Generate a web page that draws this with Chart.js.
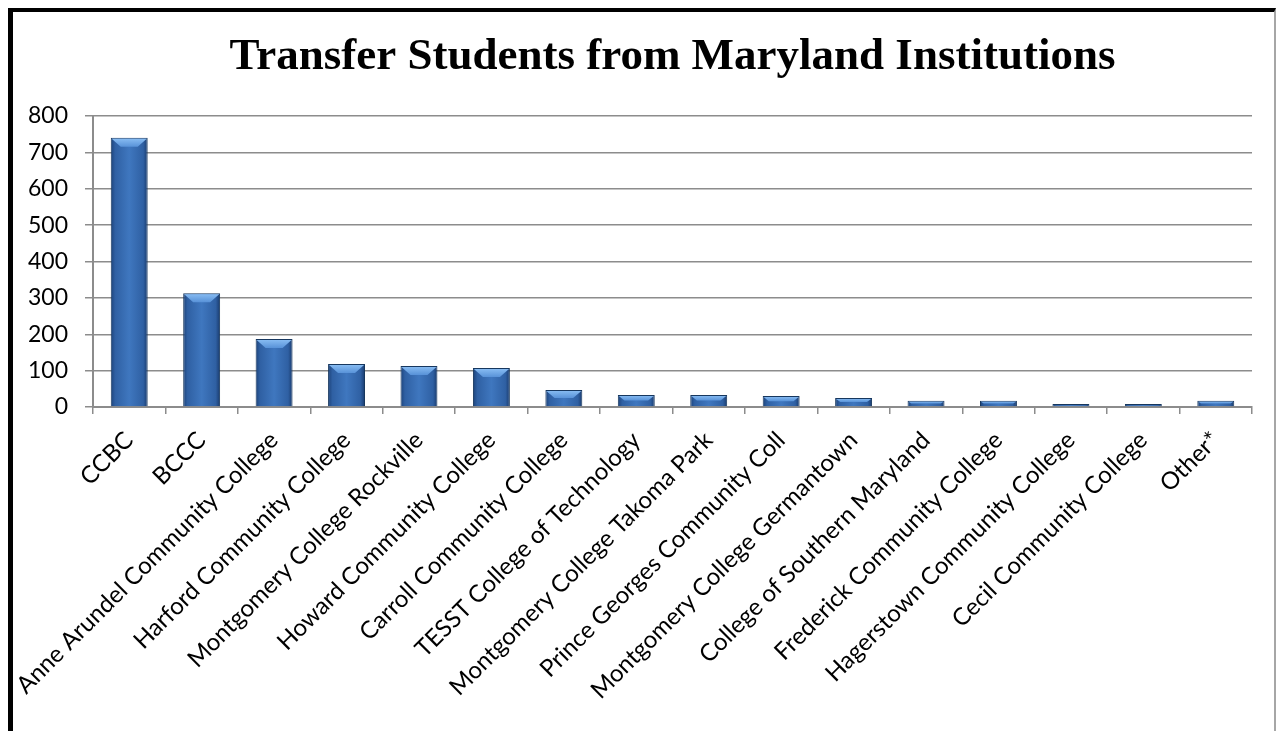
<!DOCTYPE html>
<html>
<head>
<meta charset="utf-8">
<script src="https://cdn.jsdelivr.net/npm/chart.js@4/dist/chart.umd.min.js"></script>
<style>
  body{margin:0;background:#fff;}
  #wrap{position:absolute;left:0;top:0;width:1280px;height:731px;}
  #frame{position:absolute;left:8px;top:8px;width:1268px;height:740px;border-left:5px solid #000;border-top:4px solid #000;border-right:2px solid #a6a6a6;box-sizing:border-box;pointer-events:none;}
</style>
</head>
<body>
<div id="wrap">
  <canvas id="myChart" width="1280" height="731"></canvas>
  <div id="frame"></div>
</div>
<script>
var schools = ["CCBC","BCCC","Anne Arundel Community College","Harford Community College",
  "Montgomery College Rockville","Howard Community College","Carroll Community College",
  "TESST College of Technology","Montgomery College Takoma Park","Prince Georges Community Coll",
  "Montgomery College Germantown","College of Southern Maryland","Frederick Community College",
  "Hagerstown Community College","Cecil Community College","Other*"];
var students = [740, 313, 187, 118, 113, 107, 47, 33, 33, 30, 25, 17, 17, 8, 8, 17];
var yTicks = [0, 100, 200, 300, 400, 500, 600, 700, 800];

var barPct = 0.51;
var labelFont = "Lato, 'Open Sans', sans-serif";

function barFill(c){
  var chart = c.chart;
  var xs = chart.scales.x;
  if(!xs || !chart.chartArea) return '#3a6eb5';
  var cx = xs.getPixelForValue(c.dataIndex);
  var w = xs.width / schools.length * barPct;
  var g = chart.ctx.createLinearGradient(cx - w/2, 0, cx + w/2, 0);
  g.addColorStop(0, '#1c4279');
  g.addColorStop(0.12, '#2f60a3');
  g.addColorStop(0.5, '#3f77bf');
  g.addColorStop(0.88, '#2f60a3');
  g.addColorStop(1, '#193a6c');
  return g;
}

// lighter bevel on top of each bar
var bevel = {
  id: 'bevel',
  afterDatasetsDraw: function(chart){
    var ctx = chart.ctx;
    var meta = chart.getDatasetMeta(0);
    meta.data.forEach(function(bar){
      var p = bar.getProps(['x','y','base','width'], true);
      var l = p.x - p.width/2, r = p.x + p.width/2;
      var b = Math.min(9, (p.base - p.y)/2);
      ctx.save();
      var g = ctx.createLinearGradient(0, p.y, 0, p.y + b);
      g.addColorStop(0, '#8cc0f5');
      g.addColorStop(1, '#5892d8');
      ctx.fillStyle = g;
      ctx.beginPath();
      ctx.moveTo(l + 1, p.y + 1);
      ctx.lineTo(r - 1, p.y + 1);
      ctx.lineTo(r - 1 - b, p.y + b);
      ctx.lineTo(l + 1 + b, p.y + b);
      ctx.closePath();
      ctx.fill();
      ctx.restore();
    });
  }
};

var ctx = document.getElementById('myChart');
var myBarChart = new Chart(ctx, {
  type: 'bar',
  data: {
    labels: schools,
    datasets: [{
      data: students,
      backgroundColor: barFill,
      borderColor: '#17375e',
      borderWidth: 1,
      categoryPercentage: 1,
      barPercentage: barPct
    }]
  },
  options: {
    responsive: false,
    animation: false,
    layout: { padding: { top: 20, left: 14, right: 28, bottom: 0 } },
    plugins: {
      legend: { display: false },
      tooltip: { enabled: false },
      title: {
        display: true,
        fullSize: false,
        text: 'Transfer Students from Maryland Institutions',
        color: '#000',
        font: { family: "'Liberation Serif', serif", size: 45, weight: 'bold', lineHeight: 1.2 },
        padding: { top: 10, bottom: 32 }
      }
    },
    scales: {
      x: {
        grid: { offset: true, drawOnChartArea: false, drawTicks: true, tickLength: 7, color: '#8c8c8c', lineWidth: 1.5 },
        border: { color: '#8c8c8c', width: 2 },
        ticks: { color: '#000', font: { family: labelFont, size: 24 }, maxRotation: 45, minRotation: 45, autoSkip: false, padding: 12 },
        afterFit: function(s){ s.height = 731 - 407; }
      },
      y: {
        min: 0, max: 800,
        afterBuildTicks: function(s){ s.ticks = yTicks.map(function(v){ return { value: v }; }); },
        grid: { color: '#8c8c8c', lineWidth: 1.5, tickLength: 8 },
        border: { color: '#8c8c8c', width: 2 },
        ticks: { color: '#000', font: { family: labelFont, size: 23 }, padding: 17 },
        afterFit: function(s){ s.width = 93 - 14; }
      }
    }
  },
  plugins: [bevel]
});
</script>
</body>
</html>
